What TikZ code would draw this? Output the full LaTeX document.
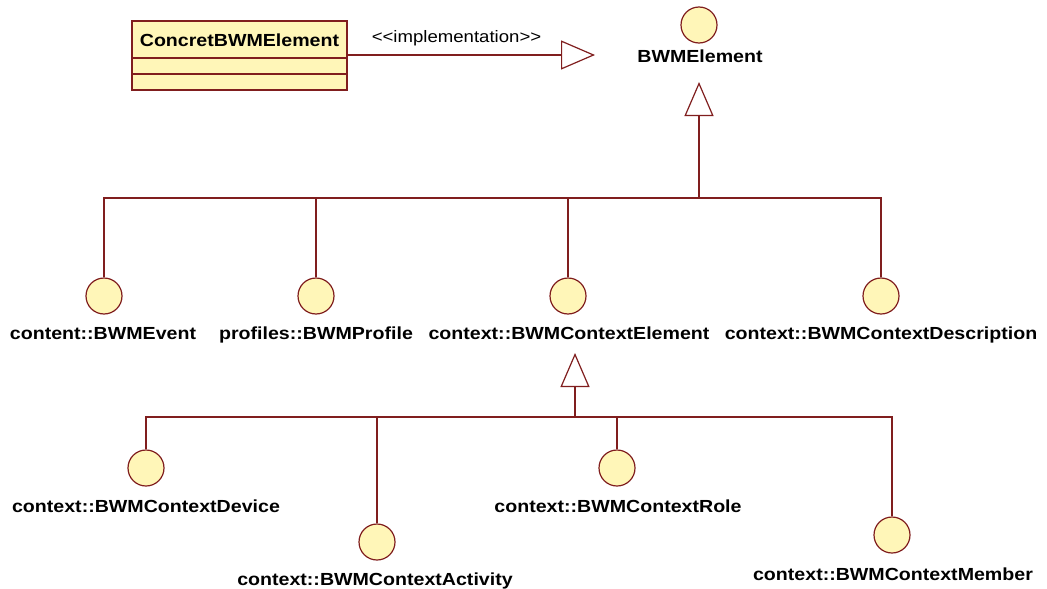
\documentclass[tikz,border=0pt]{standalone}
\usepackage{fontspec}
\setmainfont{Liberation Sans}
\newfontfamily\lblfont[FakeStretch=1.12]{Liberation Sans}
\usetikzlibrary{arrows.meta}
\definecolor{umlline}{RGB}{128,30,30}
\definecolor{umlfill}{RGB}{255,246,184}
\begin{document}
\begin{tikzpicture}[x=1pt,y=-1pt,
  conn/.style={draw=umlline, line width=1.4pt},
  gen/.style={conn, -{Triangle[open, length=34pt, width=29pt, line width=1.2pt]}},
  iface/.style={circle, draw=umlline, fill=umlfill, line width=1.2pt, minimum size=36pt, inner sep=0pt},
  lbl/.style={anchor=base, inner sep=0pt, font=\lblfont\bfseries\fontsize{17.5}{20}\selectfont},
  stereo/.style={anchor=base, inner sep=0pt, font=\lblfont\fontsize{16.6}{19}\selectfont},
  classbox/.style={draw=umlline, fill=umlfill, line width=1.4pt, minimum width=215pt, minimum height=69pt, inner sep=0pt}
]
\useasboundingbox[fill=white] (0,0) rectangle (1047,589);

% Concrete class
\node[classbox] (cls) at (239.5,55.5) {};
\node[lbl] (clsname) at (239.5,46) {ConcretBWMElement};
\draw[conn] (cls.west |- 0,58) -- (cls.east |- 0,58);
\draw[conn] (cls.west |- 0,74) -- (cls.east |- 0,74);

% BWMElement interface
\node[iface] (bwm) at (699,25) {};
\node[lbl] (bwmlbl) at (700,62) {BWMElement};
\coordinate (impltip) at (595,55);
\draw[gen] (cls.east |- impltip) -- (impltip);
\node[stereo] (impllbl) at (456.5,42) {<{}<implementation>{}>};

% first level
\node[iface] (ev) at (104,296) {};
\node[iface] (prof) at (316,296) {};
\node[iface] (ce) at (568,296) {};
\node[iface] (desc) at (881,296) {};
\node[lbl] (evlbl) at (103,339) {content::BWMEvent};
\node[lbl] (proflbl) at (316,339) {profiles::BWMProfile};
\node[lbl] (celbl) at (569,339) {context::BWMContextElement};
\node[lbl] (desclbl) at (881,339) {context::BWMContextDescription};

\coordinate (busA) at (699,198);
\coordinate (tipA) at (699,82);
\draw[conn] (ev.north) |- (desc.north |- busA) -- (desc.north);
\draw[conn] (prof.north) -- (prof.north |- busA);
\draw[conn] (ce.north) -- (ce.north |- busA);
\draw[gen] (busA) -- (tipA);

% second level
\node[iface] (dev) at (146,468) {};
\node[iface] (act) at (377,542) {};
\node[iface] (role) at (617,468) {};
\node[iface] (mem) at (892,535) {};
\node[lbl] (devlbl) at (146,512) {context::BWMContextDevice};
\node[lbl] (actlbl) at (375,585) {context::BWMContextActivity};
\node[lbl] (rolelbl) at (618,512) {context::BWMContextRole};
\node[lbl] (memlbl) at (893,580) {context::BWMContextMember};

\coordinate (busB) at (575,417);
\coordinate (tipB) at (575,353);
\draw[conn] (dev.north) |- (mem.north |- busB) -- (mem.north);
\draw[conn] (act.north) -- (act.north |- busB);
\draw[conn] (role.north) -- (role.north |- busB);
\draw[gen] (busB) -- (tipB);
\end{tikzpicture}
\end{document}
